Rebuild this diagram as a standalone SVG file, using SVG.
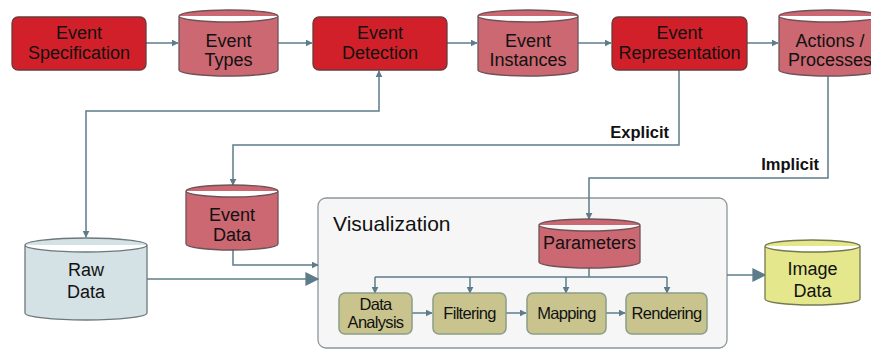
<svg xmlns="http://www.w3.org/2000/svg" width="871" height="351" viewBox="0 0 871 351">
<defs>
<style>
text{font-family:"Liberation Sans",Arial,sans-serif;fill:#111;text-anchor:middle}
.t{font-size:18px}
.s{font-size:16.5px;letter-spacing:-0.7px}
.lab{font-size:16.5px;font-weight:bold;text-anchor:end}
.proc{fill:#d2202a;stroke:#6b3a3a;stroke-width:1.3}
.cyl{fill:#cb6872;stroke:#6d5358;stroke-width:1.3}
.raw{fill:#d4e1e5;stroke:#6d787b;stroke-width:1.3}
.img{fill:#e4e78c;stroke:#76784f;stroke-width:1.3}
.step{fill:#c9c48d;stroke:#8b9d87;stroke-width:1.5}
.vis{fill:#f6f6f6;stroke:#8d979b;stroke-width:1.3}
.c{fill:none;stroke:#5d7c89;stroke-width:1.5}
</style>
<marker id="a" viewBox="0 0 10 10" refX="9" refY="5" markerWidth="7" markerHeight="7" markerUnits="userSpaceOnUse" orient="auto-start-reverse"><path d="M0,0 L10,5 L0,10 z" fill="#5d7c89"/></marker>
<marker id="b" viewBox="0 0 10 10" refX="9" refY="5" markerWidth="17" markerHeight="14" markerUnits="userSpaceOnUse" orient="auto"><path d="M0,0 L10,5 L0,10 z" fill="#5d7c89"/></marker>
</defs>

<g id="visualization">
<rect class="vis" x="318" y="198" width="409" height="150" rx="8"/>
<text x="333" y="231" style="font-size:21px;text-anchor:start">Visualization</text>
</g>

<g id="connectors">
<path class="c" d="M146,43 H178" marker-end="url(#a)"/>
<path class="c" d="M278,43 H312" marker-end="url(#a)"/>
<path class="c" d="M447,43 H477" marker-end="url(#a)"/>
<path class="c" d="M578,43 H611" marker-end="url(#a)"/>
<path class="c" d="M747,43 H778" marker-end="url(#a)"/>
<path class="c" d="M379,71 V111 H86 V237" marker-start="url(#a)" marker-end="url(#a)"/>
<path class="c" d="M679,70 V145 H233 V185" marker-end="url(#a)"/>
<path class="c" d="M828,76 V178 H589 V219" marker-end="url(#a)"/>
<path class="c" d="M233,250 V265 H318" marker-end="url(#a)"/>
<path class="c" d="M147,279 H318" marker-end="url(#b)"/>
<path class="c" d="M589,268 V277 M375,277 H667"/>
<path class="c" d="M375,277 V293" marker-end="url(#a)"/>
<path class="c" d="M470,277 V293" marker-end="url(#a)"/>
<path class="c" d="M566,277 V293" marker-end="url(#a)"/>
<path class="c" d="M667,277 V293" marker-end="url(#a)"/>
<path class="c" d="M412,313 H432" marker-end="url(#a)"/>
<path class="c" d="M506,313 H526" marker-end="url(#a)"/>
<path class="c" d="M606,313 H625" marker-end="url(#a)"/>
<path class="c" d="M727,275 H765" marker-end="url(#b)"/>
<text class="lab" x="669" y="138">Explicit</text>
<text class="lab" x="819" y="170">Implicit</text>
</g>

<g id="event-specification">
<rect class="proc" x="12" y="17" width="134" height="53" rx="6"/>
<text class="t" x="79" y="39">Event</text>
<text class="t" x="79" y="59">Specification</text>
</g>

<g id="event-types">
<path class="cyl" d="M179,16 A49.5,6 0 0 1 278,16 V70 A49.5,6 0 0 1 179,70 Z M179,16 A49.5,6 0 0 0 278,16"/>
<text class="t" x="228.5" y="47">Event</text>
<text class="t" x="228.5" y="66">Types</text>
</g>

<g id="event-detection">
<rect class="proc" x="313" y="17" width="134" height="53" rx="6"/>
<text class="t" x="380" y="39">Event</text>
<text class="t" x="380" y="59">Detection</text>
</g>

<g id="event-instances">
<path class="cyl" d="M478,16 A50,6 0 0 1 578,16 V70 A50,6 0 0 1 478,70 Z M478,16 A50,6 0 0 0 578,16"/>
<text class="t" x="528" y="47">Event</text>
<text class="t" x="528" y="66">Instances</text>
</g>

<g id="event-representation">
<rect class="proc" x="612" y="17" width="135" height="53" rx="6"/>
<text class="t" x="679.5" y="39">Event</text>
<text class="t" x="679.5" y="59">Representation</text>
</g>

<g id="actions-processes">
<path class="cyl" d="M779,16 A50,6 0 0 1 879,16 V70 A50,6 0 0 1 779,70 Z M779,16 A50,6 0 0 0 879,16"/>
<text class="t" x="830" y="47">Actions /</text>
<text class="t" x="830" y="66">Processes</text>
</g>

<g id="event-data">
<path class="cyl" d="M186,191 A46,6 0 0 1 278,191 V244 A46,6 0 0 1 186,244 Z M186,191 A46,6 0 0 0 278,191"/>
<text class="t" x="232" y="221">Event</text>
<text class="t" x="232" y="241">Data</text>
</g>

<g id="raw-data">
<path class="raw" d="M25,245 A61,7 0 0 1 147,245 V313 A61,7 0 0 1 25,313 Z M25,245 A61,7 0 0 0 147,245"/>
<text class="t" x="86" y="276">Raw</text>
<text class="t" x="86" y="298">Data</text>
</g>

<g id="parameters">
<path class="cyl" d="M539,225 A50.5,6 0 0 1 640,225 V262 A50.5,6 0 0 1 539,262 Z M539,225 A50.5,6 0 0 0 640,225"/>
<text class="t" x="589.5" y="249">Parameters</text>
</g>

<g id="data-analysis">
<rect class="step" x="339" y="293" width="73" height="41" rx="6"/>
<text class="s" x="375.5" y="310">Data</text>
<text class="s" x="375.5" y="328">Analysis</text>
</g>

<g id="filtering">
<rect class="step" x="433" y="293" width="73" height="41" rx="6"/>
<text class="s" x="469.5" y="319">Filtering</text>
</g>

<g id="mapping">
<rect class="step" x="527" y="293" width="79" height="41" rx="6"/>
<text class="s" x="566.5" y="319">Mapping</text>
</g>

<g id="rendering">
<rect class="step" x="626" y="293" width="81" height="41" rx="6"/>
<text class="s" x="666.5" y="319">Rendering</text>
</g>

<g id="image-data">
<path class="img" d="M765,246 A47.5,6 0 0 1 860,246 V299 A47.5,6 0 0 1 765,299 Z M765,246 A47.5,6 0 0 0 860,246"/>
<text class="t" x="812.5" y="275">Image</text>
<text class="t" x="812.5" y="297">Data</text>
</g>
</svg>
